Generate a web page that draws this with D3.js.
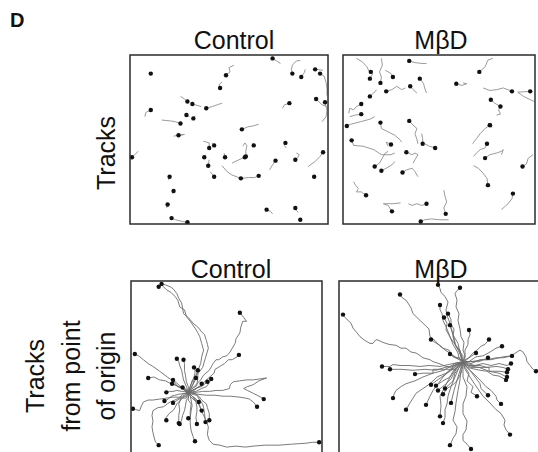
<!DOCTYPE html>
<html>
<head>
<meta charset="utf-8">
<script src="https://cdn.jsdelivr.net/npm/d3@7"></script>
<style>
  body { margin: 0; background: #fff; }
  svg { display: block; }
</style>
</head>
<body>
<div id="fig"></div>
<script>
// Track data (0-100 field units, y grows downward).
// Last point of every track is the cell position (black dot).

var panelTitles = ['Control', 'M\u03b2D'];
var rowLabels = [['Tracks'], ['Tracks', 'from point', 'of origin']];

var topControlTracks = [
  [[11,10],[10.5,11]],
  [[76,5],[74,3.5],[72,2]],
  [[52.5,6],[50,7.5],[50.5,10],[48.5,12]],
  [[46.5,16],[45,17.5],[45.5,19.5]],
  [[86,3.3],[84,3.5],[82,6],[81.5,8.5],[82,11]],
  [[88.5,8.5],[88,10.5],[86.5,13]],
  [[99.5,24],[99.5,20],[99,16],[98,12.5],[96,11]],
  [[97.5,9],[93.5,8.5]],
  [[97,39.5],[99,36.5],[99.5,33],[98.5,28]],
  [[99.5,30.5],[97,29.5],[94,26]],
  [[77,31.5],[78,29.5],[80.5,28.5]],
  [[25.5,24.5],[27.5,26],[29,27.5]],
  [[36,30.5],[31.5,29]],
  [[46.5,28.5],[44,29.5],[41.5,30.5],[38.5,31.5]],
  [[7.5,36.5],[8,34],[10.5,32.5]],
  [[16,38.5],[20.5,39],[23,39.5],[25.5,40.5]],
  [[30,36.5],[28.5,35.5]],
  [[33,36],[32,37.5]],
  [[22,48],[27.5,47],[24.5,47.5]],
  [[65,41],[62,42],[59.5,42.5],[56.5,44]],
  [[4,57],[2.5,59],[1,60.5]],
  [[37,51],[40,52],[40,55]],
  [[41.5,52],[42.5,53.5]],
  [[38,59],[37.5,60.5]],
  [[40,62],[39.5,65.5]],
  [[40.5,69],[42.5,72]],
  [[47.5,58],[48,60.5]],
  [[46.5,65.5],[49,69],[51.5,71],[56,73]],
  [[56.5,73],[60,72.5],[63,72.5],[65,71.5]],
  [[57,54],[58,52],[59,53.5],[58.5,57],[58.5,60]],
  [[51.5,64],[55,62],[58,60.5]],
  [[62,52],[62.5,53.5]],
  [[79,55],[78,53.5],[78.5,52]],
  [[70.5,68],[72,65],[73.5,62.5]],
  [[84,58],[85.5,59],[84.5,61],[83.5,62]],
  [[90,66],[93.5,63],[96,60],[97.5,57.5]],
  [[92.5,71],[93,72]],
  [[19.5,74],[20,72]],
  [[21.5,82],[22,80.5]],
  [[18.5,90.5],[19,88.5]],
  [[29,99],[26.5,98.5],[23,97.5],[21,96.5]],
  [[30,98.5],[29,99]],
  [[72,94],[71,92.5],[69,91.5]],
  [[85,93],[84,92],[83.5,90.5]],
  [[86,96.5],[86,97.5]]
];

var topMbdTracks = [
  [[43.5,5],[41,5],[37.5,4.5],[34.5,3.5]],
  [[7,2],[10,4],[12.5,7],[13.5,9.5],[14.5,10]],
  [[20,2],[20.5,6],[19,10],[20,13],[19.5,16.5]],
  [[22,9],[25,11],[26,13]],
  [[15.5,11],[14,14]],
  [[32.5,19.5],[30.5,20.5],[28,18.5],[25.5,20.5],[22.5,21.5]],
  [[38.5,22.5],[36.5,20.5],[35,18.5]],
  [[43.5,22.5],[42.5,19.5],[42,17],[40,14]],
  [[17.5,20.5],[16,22.5],[14,24.5]],
  [[3,34.5],[3.5,31.5],[5.5,32.5],[7,30.5],[9.5,29]],
  [[3.5,36.5],[6.5,35.5],[9.5,35]],
  [[62.5,16.5],[64.5,17],[62,18],[59,17]],
  [[78,2],[75.5,3],[74,7],[71,10]],
  [[73,19.5],[76.5,21],[80,20.5],[83.5,19.5],[88,21.5]],
  [[99.5,27.5],[94,24.5],[91,22],[97.5,21.5]],
  [[82,30.5],[79,28.5],[77,26.5]],
  [[80,35.5],[82,35],[81,32.5],[82,30.5]],
  [[16.5,36.5],[14,38],[9,39.5],[4,41],[2,42]],
  [[30.5,51.5],[30,50.5],[27,47.5],[23.5,45.5],[20,43.5],[19.5,40]],
  [[39,52.5],[38.5,50],[37.5,46.5],[38.5,43.5],[36.5,41.5],[34.5,39]],
  [[41,46.5],[41.5,49.5],[41.5,52.5]],
  [[42.5,52.5],[45,54],[48,55]],
  [[27,58],[25,59],[20,59],[16,56],[10.5,54],[5.5,53.5],[4.5,50.5]],
  [[23.5,54],[22.5,51.5],[25,53]],
  [[23.5,57],[22,58],[20.5,61],[19,64],[16.5,66]],
  [[27,63],[25.5,65],[22.5,67],[20,68.5]],
  [[36.5,64],[37.5,62],[39,59],[37.5,58],[36,59],[33,57.5]],
  [[39,72],[37.5,69],[36,67],[33,68],[31,69.5]],
  [[67.5,52.5],[69.5,49.5],[71.5,46.5],[74,43.5],[76.5,41.5]],
  [[77.5,43],[76.5,41.5]],
  [[68,60],[69.5,58],[71.5,56],[74,55],[75,52.5]],
  [[82.5,59],[83.5,56],[82.5,57],[80,58],[76.5,59],[74,61]],
  [[99,59],[96.5,61],[95.5,64.5],[93.5,66]],
  [[68,65.5],[70.5,67],[73,70],[75,73],[75.5,77]],
  [[82.5,91.5],[84.5,89.5],[86,88],[88,85],[88.5,82]],
  [[5.5,75],[6.5,77],[8,79],[7,81],[9.5,81],[12,83]],
  [[30,87.5],[26,88],[21,88],[23.5,89],[25.5,92.5]],
  [[34,88],[36,89],[38.5,88],[41,89],[43.5,88]],
  [[52.5,80],[53,83],[54,87],[52.5,90.5],[53.5,94]],
  [[55,97.5],[50.5,97.5],[46,97],[42.5,97.5],[40.5,98.5]]
];

// tracks re-plotted from a common point of origin
var controlOrigin = [30, 58];
var mbdOrigin = [62, 42];

var originControlTracks = [
  [[31,55],[32,52],[34,49],[35,46.5],[36.5,43],[37,39.5],[38,36],[37,32.5],[36,29],[35,27],[33.5,24.5],[31,21],[29,18.5],[28,15],[25.5,13.5],[24.5,10],[23,8],[21,6],[18.5,4.5],[16,2],[14.5,3]],
  [[32,55],[33.5,50],[36,47],[37.5,45],[39,40],[40.5,35],[40,33],[39.5,31],[38.5,28],[37,26.5],[35,24],[32.5,22],[30,19],[27.5,17],[27,14],[26.5,11.5],[25,9],[24,6.5],[22,4],[20.5,3],[18,2],[16,1.5]],
  [[33,55],[36.5,51.5],[38,49],[41,46.5],[43,43],[44.5,41],[46,41],[48,39.5],[50,39],[51.5,37.5],[53,35],[54.5,32.5],[55,30],[57,27],[57.5,24],[58.5,21],[60.5,21],[59,19],[57,16.5]],
  [[34,56],[36.5,54.5],[40,51],[43.5,48],[44,46],[46.5,44.5],[49,43],[51,41],[53,41],[55.5,39.5],[56.5,38.5]],
  [[34,58],[37.5,57.5],[41,57.5],[44.5,57],[48,57],[51.5,56],[52,54],[53.5,52.5],[57,52],[60.5,51.5],[64,51.5],[67.5,51],[71,50.5],[67,52],[64,54],[61,55],[59,56],[61,57],[64,58.5],[67,60],[69.5,61.5]],
  [[35,59],[39.5,59.5],[44,59.5],[48,60],[52,60],[57,60.5],[60,61],[62,61.5],[64,63],[66,65.5]],
  [[32,60],[34.5,62],[36,65],[37.5,69],[39,72],[40.5,76],[40,80],[41,83],[43,85],[46.5,85.5],[50,86.5],[55,86],[60,86.5],[64,86],[70,85.5],[77.5,85.5],[84,85],[91.5,84.5],[95,84],[98.5,84]],
  [[27,59],[25.5,60.5],[22,60.5],[18.5,61],[15,61.5],[11.5,62],[9,62],[6.5,63],[5.5,65],[4.5,67.5],[2.5,67],[1,66.5]],
  [[28,56],[24.5,55],[22,52],[19,50],[15,47],[11.5,44.5],[9,43],[6.5,41],[4,39],[2,38]],
  [[29,55],[27.5,51.5],[27,49],[26.5,46.5],[25.5,44],[25,42],[24,40.5]],
  [[30,55],[29,52.5],[28.5,49],[28,46.5],[28,43],[27.5,41]],
  [[27,56],[24,54.5],[21,53.5],[18,52],[15,51.5],[12,50],[9,50.5]],
  [[28,57],[25.5,54.5],[22,51.5]],
  [[31,55],[32.5,51.5],[33.5,48],[33.5,46.5],[33,45]],
  [[32,56],[34.5,54.5],[35,50],[35,46.5]],
  [[33,57],[35.5,55],[37.5,54.5],[40,52.5]],
  [[34,57.5],[37,56],[39.5,55],[41,53],[42,51]],
  [[32,57],[35,55.5],[37,55],[37,53.5]],
  [[29,60],[27.5,60.5],[25.5,62.5],[24,64],[23,66],[22,67.5],[20,69],[18.5,71],[18.5,72.5]],
  [[30,61],[29,62],[28.5,65],[28,67.5],[27,70],[26.5,72.5],[25.5,74.5]],
  [[31,60],[31.5,62],[32,65],[31.5,67.5],[31,71],[30,71.5]],
  [[31,59],[32.5,60.5],[34,63],[34.5,65.5],[34.5,68],[34,71],[34.5,74.5]],
  [[32,59],[34.5,59.5],[36,62],[37.5,64],[38,66],[38.5,69],[39,73.5]],
  [[33,58.5],[35,59.5],[37,62],[39.5,64],[40,66],[41,69],[41,72.5]],
  [[32,60],[33.5,61],[35,63],[36,65.5],[37,67.5]],
  [[27,60],[23,62],[20.5,63],[19,64],[17,65.5],[14,66],[11.5,67.5],[11,70],[11.5,73],[11,76],[11.5,79],[12.5,83],[13,84],[14.5,85.5]],
  [[30,62],[31.5,64],[31,68],[31,71],[31,74.5],[31.5,78],[32.5,81],[33.5,83.5]],
  [[28,58.5],[25,59],[23,59.5],[21,60],[19.5,61.5],[17.5,62.5]],
  [[29,56.5],[27,55.5],[24.5,55],[23,54],[21.5,53.5]],
  [[28,57.5],[26.5,57.5],[24,57],[22,57.5],[20,57.5],[18.5,58]],
  [[29,61],[26,61],[25.5,63],[25,64],[25.5,67],[25,70],[25,74]],
  [[31,56],[33,53],[34,50.5]],
  [[30,59],[28,57],[27,55.5]],
  [[31,60],[33,62],[35.5,63]],
  [[28,60],[26,61],[24.5,62],[22,63.5]]
];

var originMbdTracks = [
  [[59,43],[56,45],[53.5,44.5],[50,43],[47,42],[45.5,41],[42,40],[40,38.5],[38.5,37.5],[36,37],[33.5,35],[31,35],[28.5,33.5],[25,33],[22,32],[20,31],[18.5,30.5],[17,32.5],[15.5,32.5],[13,31],[10.5,29],[9,27],[7,24.5],[6,22],[4.5,20.5],[3,19],[2,17.5]],
  [[60,40],[57,39.5],[55,36],[52,35],[50.5,34],[48,31],[45.5,29],[45,25],[42,22],[40,20],[37,17],[36,14],[34.5,11.5],[33.5,10],[32,9],[31,8],[30.5,7]],
  [[61,38],[60.5,36],[58,33],[57,29],[57.5,25],[55.5,22],[54,18],[53.5,15],[54.5,11],[53,8],[51,6],[50.5,4],[49.5,2]],
  [[63,39],[62,36],[62.5,32],[61,29],[60.5,25],[59.5,20.5],[60,17],[58.5,13.5],[59,10],[58,6.5],[59,5],[60.5,3.5]],
  [[60,40],[59.5,37.5],[57,33],[55.5,29],[54,25],[52,20.5],[51.5,17],[50.5,15],[50.5,12.5]],
  [[61,39],[58,33],[56,30],[53.5,25.5],[54,22],[52.5,19]],
  [[62,39],[58.5,34],[57.5,30],[56,24],[56,20],[54.5,17]],
  [[61,40],[59.5,32.5],[57,28],[55.5,23]],
  [[60,41],[55.5,37.5],[53,36],[50.5,33.5],[48,32],[46,30.5]],
  [[63,40],[63,36],[64.5,33],[64.5,30.5],[65.5,28],[65,25.5]],
  [[64,41],[67,37.5],[69,36],[71,34],[73,33],[75,30.5]],
  [[65,42],[68.5,39.5],[72,39],[75.5,37],[77,36],[78.5,35],[81.5,34]],
  [[66,43],[70.5,41],[74,41],[78.5,40],[82,40],[86.5,39]],
  [[66,42],[72,41],[76,41],[82,39.5],[86,39],[90.5,36],[92,37],[93.5,39.5],[94,42],[95.5,44],[97,46],[98.5,47]],
  [[65,44],[70.5,44],[74,45],[78.5,44.5],[82,45],[84.5,46]],
  [[64,45],[70.5,46.5],[74,47],[77,49],[80,49.5],[83.5,51.5]],
  [[63,44],[65.5,46.5],[68,50],[70.5,53.5],[71,56],[74.5,59.5]],
  [[64,45],[67,48],[70,51],[73.5,55],[76,57],[78.5,60],[79,62],[81,64]],
  [[63,46],[65.5,50],[68,54],[72,60],[75,63],[78.5,67],[81,69],[83,72.5],[82.5,75],[83.5,77.5],[85.5,80]],
  [[62,46],[62,50],[64,55],[63.5,60],[62,64],[62,69],[64,73],[63.5,77.5],[62,80],[62,83],[64,85],[66,87.5]],
  [[61,46],[60.5,51.5],[59.5,57],[58.5,63.5],[58,68],[57,72.5],[59,76],[58.5,79.5],[57,82],[55.5,85.5]],
  [[60,45],[58,50],[56,55],[54.5,60],[54,64],[53,67],[53,71],[52,74]],
  [[59,45],[55.5,50],[53,55],[50.5,60],[51,65],[50.5,70.5]],
  [[61,45],[59.5,50],[57.5,57],[56,63.5]],
  [[59,44],[55.5,46.5],[52,50],[48.5,55],[47,57],[45.5,60],[43.5,64.5]],
  [[58,44],[53.5,48],[49,50],[45.5,53.5],[42,56],[38.5,58.5],[37,61],[35.5,63.5],[33.5,67]],
  [[58,43],[52.5,46.5],[47,48],[42,50],[38,52],[33.5,53.5],[31,55],[28.5,57],[27.5,59],[27,61]],
  [[57,43],[50.5,44.5],[45,44],[40.5,44.5],[35,44],[30.5,44],[27,43.5],[25.5,44.5],[21.5,44.5]],
  [[58,44],[53,45],[48.5,46.5],[43,46],[37,46.5],[31,46],[25.5,46]],
  [[60,44],[57,47],[55.5,50],[52,52],[48.5,54.5]],
  [[61,44],[58,48],[57,52],[55,54],[53,56]],
  [[60,44],[58,47],[56,51],[53,54],[49.5,57]],
  [[59,44],[57,46],[54,48],[50,51],[46,54]],
  [[61,41],[58,40],[55.5,38]],
  [[63,41],[65,40],[68.5,37.5]],
  [[64,42],[70,42],[74.5,40]],
  [[64,44],[70,45],[75,47],[80,48],[84,50]],
  [[64,44],[66,45],[70,45],[75,45],[75,47],[80,47],[84,47.5]],
  [[60,44],[58,46],[52,46],[47,46],[47,48],[42,48],[38,48.5]],
  [[63,45],[65,48],[64,52],[67,55],[66,58],[69,60]],
  [[64,43],[68,44],[72,43],[76,44],[80,43],[84,44],[86,43]],
  [[62,44],[61,48],[59,52],[57,54],[54,56],[52,59]]
];

var width = 538, height = 452;

var svg = d3.select('#fig')
  .append('svg')
  .attr('width', width)
  .attr('height', height)
  .style('font-family', '"Liberation Sans", Arial, Helvetica, sans-serif');

// panel boxes (left, top, right, bottom) in pixels
var panels = [
  {id: 'tc', box: [130, 55, 328, 224], tracks: topControlTracks, origin: null, title: panelTitles[0], tx: 234, ty: 49, light: true},
  {id: 'tm', box: [343, 55, 535, 224], tracks: topMbdTracks, origin: null, title: panelTitles[1], tx: 441, ty: 49, light: true},
  {id: 'oc', box: [131, 281, 322, 473], tracks: originControlTracks, origin: controlOrigin, title: panelTitles[0], tx: 231, ty: 278, light: false},
  {id: 'om', box: [339, 281, 539, 473], tracks: originMbdTracks, origin: mbdOrigin, title: panelTitles[1], tx: 441, ty: 278, light: false}
];

panels.forEach(function(p) {
  var x = d3.scaleLinear().domain([0, 100]).range([p.box[0], p.box[2]]);
  var y = d3.scaleLinear().domain([0, 100]).range([p.box[1], p.box[3]]);

  svg.append('clipPath')
    .attr('id', 'clip-' + p.id)
    .append('rect')
    .attr('x', p.box[0]).attr('y', p.box[1])
    .attr('width', p.box[2] - p.box[0])
    .attr('height', p.box[3] - p.box[1]);

  var g = svg.append('g').attr('clip-path', 'url(#clip-' + p.id + ')');

  var tracks = p.tracks.map(function(t) {
    return p.origin ? [p.origin].concat(t) : t;
  });

  var line = d3.line()
    .x(function(d) { return x(d[0]); })
    .y(function(d) { return y(d[1]); });

  g.selectAll('path.track')
    .data(tracks)
    .enter()
    .append('path')
    .attr('class', 'track')
    .attr('d', line)
    .attr('fill', 'none')
    .attr('stroke', p.light ? '#909090' : '#6c6c6c')
    .attr('stroke-width', p.light ? 0.9 : 0.9)
    .attr('stroke-linejoin', 'round');

  g.selectAll('circle')
    .data(tracks)
    .enter()
    .append('circle')
    .attr('cx', function(t) { return x(t[t.length - 1][0]); })
    .attr('cy', function(t) { return y(t[t.length - 1][1]); })
    .attr('r', 2.2)
    .attr('fill', '#111');

  svg.append('rect')
    .attr('x', p.box[0]).attr('y', p.box[1])
    .attr('width', p.box[2] - p.box[0])
    .attr('height', p.box[3] - p.box[1])
    .attr('fill', 'none')
    .attr('stroke', '#2b2b2b')
    .attr('stroke-width', 1.5);

  svg.append('text')
    .attr('x', p.tx).attr('y', p.ty)
    .attr('text-anchor', 'middle')
    .style('font-size', '25px')
    .attr('fill', '#111')
    .text(p.title);
});

// panel letter
svg.append('text')
  .attr('x', 10).attr('y', 27)
  .style('font-size', '20px')
  .style('font-weight', 'bold')
  .attr('fill', '#111')
  .text('D');

// row labels (rotated)
var rowLabelPos = [
  {cy: 153, xs: [115]},
  {cy: 376, xs: [44, 79.5, 115]}
];
rowLabels.forEach(function(lines, i) {
  lines.forEach(function(txt, j) {
    svg.append('text')
      .attr('transform', 'translate(' + rowLabelPos[i].xs[j] + ',' + rowLabelPos[i].cy + ') rotate(-90)')
      .attr('text-anchor', 'middle')
      .style('font-size', '25px')
      .attr('fill', '#111')
      .text(txt);
  });
});
</script>
</body>
</html>
